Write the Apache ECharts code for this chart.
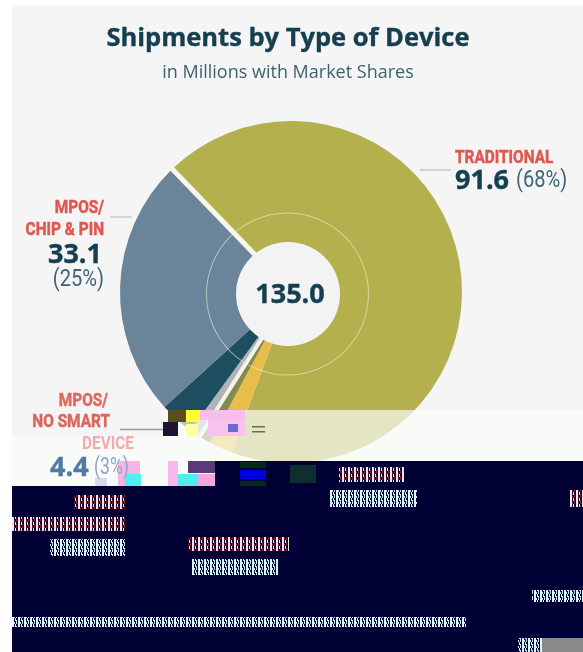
<!DOCTYPE html>
<html><head><meta charset="utf-8">
<style>html,body{margin:0;padding:0;background:#fff}#c{width:583px;height:652px}</style>
<script src="https://cdn.jsdelivr.net/npm/echarts@6/dist/echarts.min.js"></script>
</head><body><div id="c"></div>
<script>
const categories = ['Traditional','Other A','Other B','Other C','MPOS/No Smart Device','MPOS/Chip & Pin'];
const values = [91.6, 3.0, 1.5, 1.4, 4.4, 33.1];
const colors = ['#b3b04d','#e8bd4a','#86884e','#b2b3b5','#1d4f60','#6a8599'];
const total = 135.0;
const titleText = 'Shipments by Type of Device';
const subtitleText = 'in Millions with Market Shares';

const chart = echarts.init(document.getElementById('c'), null, {renderer:'canvas'});
const pieCenter = [291,292];
const mainData = categories.map((n,i)=>({name:n,value:values[i],itemStyle:{color:colors[i]}}));
const overlayData = [];
categories.forEach((n,i)=>{
  if(i===0) overlayData.push({name:'sep0',value:0,itemStyle:{color:'none',borderColor:'#f7f7ea',borderWidth:5}});
  if(i===3) overlayData.push({name:'sep3',value:0,itemStyle:{color:'none',borderColor:'#f3f3ee',borderWidth:4}});
  overlayData.push({name:n,value:values[i],itemStyle:{color:'transparent',borderWidth:0}});
});
function noise(a,b){
  const c=document.createElement('canvas');c.width=6;c.height=6;const g=c.getContext('2d');
  g.fillStyle='#000034';g.fillRect(0,0,6,6);g.fillStyle=a;g.fillRect(0,0,2,6);g.fillRect(3,0,1,3);
  g.fillStyle=b;g.fillRect(4,2,1,4);g.fillRect(2,4,1,2);
  return {image:c,repeat:'repeat'};
}
const NR=noise('#f1e4ea','#7a1d2a'), NC=noise('#dff4fa','#bfeaf2');
const RED='#e0574f', DARK='#133f50', MID='#3f6475';
const T=(text,x,y,o)=>({type:'text',z:20,x,y,scaleX:o.sx||1,silent:true,style:{text,fill:o.c||DARK,stroke:o.b?(o.c||DARK):null,lineWidth:o.b||0,font:o.f,textAlign:o.a||'left',textVerticalAlign:'middle'}});
const R=(x,y,w,h,fill,op)=>({type:'rect',z:12,silent:true,shape:{x,y,width:w,height:h},style:{fill,opacity:op==null?1:op}});
const cond='bold 19px Roboto, sans-serif', condN='24.5px Roboto, sans-serif', num='bold 27px "Open Sans", sans-serif';
const graphics=[
 {type:'rect',z:0,silent:true,shape:{x:12,y:5,width:571,height:647},style:{fill:'#f5f5f5'}},
 {type:'polygon',z:10,silent:true,shape:{points:[[12,436],[165,436],[165,410],[583,410],[583,461],[215,461],[215,486],[12,486]]},style:{fill:'#fafdfb',opacity:.68}},
 {type:'polygon',z:11,silent:true,shape:{points:[[12,486],[215,486],[215,461],[583,461],[583,652],[12,652]]},style:{fill:'#000034'}},
 {type:'line',z:5,silent:true,shape:{x1:420,y1:170,x2:451,y2:170},style:{stroke:'#a9adae',lineWidth:1}},
 {type:'line',z:5,silent:true,shape:{x1:110,y1:217,x2:132,y2:217},style:{stroke:'#b5b8b9',lineWidth:1}},
 {type:'line',z:5,silent:true,shape:{x1:120,y1:429.5,x2:166,y2:429.5},style:{stroke:'#9a9a9a',lineWidth:1.5}},
 R(168,410,22,12,'#5a4d1e'),R(163,422,15,14,'#1c1430'),R(186,410,14,12,'#ffff30'),R(186,424,12,12,'#ffffa0'),
 R(200,410,45,10,'#f7bdf0'),R(208,420,37,16,'#f8c2ef'),R(228,424,10,8,'#6a6ad0'),R(252,426,13,1.5,'#6a6a55'),R(252,431,13,1.5,'#6a6a55'),
 R(118,461,22,25,'#f5b5e8'),R(125,474,16,12,'#4ff0f0'),R(168,461,10,25,'#f8b8ec'),R(178,474,20,12,'#4feeee'),R(188,461,27,12,'#5a3a7a'),R(198,474,17,12,'#f5a5e0'),R(95,478,12,8,'#d8d8f0'),
 R(240,470,26,9,'#0000e0'),R(240,462,26,6,'#003018',.9),R(240,481,26,5,'#003018',.9),R(290,465,26,18,'#123a30',.8),
 R(339,467,65,15,NR),R(329,490,88,17,NC),R(569,490,14,17,NR),
 R(74,495,52,14,NR),R(12,517,114,14,NR),R(50,539,76,17,NC),
 R(188,537,101,14,NR),R(191,559,87,16,NC),R(532,590,51,12,NC),R(12,617,454,10,NC),
 R(518,638,24,14,NC),R(542,638,41,14,'#8a8a8a'),
 T(titleText,288,39,{f:'bold 25.5px "Open Sans", sans-serif',c:'#153f50',a:'center',b:.4}),
 T(subtitleText,288,73,{f:'18px "Open Sans", sans-serif',c:'#3d6171',a:'center'}),
 T(total.toFixed(1),290,295,{f:num,c:DARK,a:'center',b:.4}),
 T('TRADITIONAL',455,158,{f:cond,c:RED,sx:.81,b:.5}),
 T(values[0].toFixed(1),455,181,{f:num,b:.4}),
 T('(68%)',516,181,{f:condN,c:MID,sx:.82}),
 T('MPOS/',104,208,{f:cond,c:RED,a:'right',sx:.81,b:.5}),
 T('CHIP & PIN',104,230,{f:cond,c:RED,a:'right',sx:.81,b:.5}),
 T(values[5].toFixed(1),102,255,{f:num,a:'right',b:.4}),
 T('(25%)',104,280,{f:condN,c:MID,a:'right',sx:.82}),
 T('MPOS/',108,401,{f:cond,c:'#e0695f',a:'right',sx:.81,b:.5}),
 T('NO SMART',110,422,{f:cond,c:'#d8675e',a:'right',sx:.81,b:.5}),
 T('DEVICE',134,444,{f:cond,c:'#f4a9ae',a:'right',sx:.81}),
 T(values[4].toFixed(1),50,468,{f:num,c:'#5279a3',b:.4}),
 T('(3%)',94,468,{f:condN,c:'#8fa6c8',sx:.72})
];
chart.setOption({
  animation:false,
  backgroundColor:'#ffffff',
  graphic:{elements:graphics},
  series:[
   {type:'pie',z:2,silent:true,center:pieCenter,radius:[40,171],startAngle:134,clockwise:true,label:{show:false},labelLine:{show:false},data:mainData},
   {type:'pie',z:3,silent:true,center:pieCenter,radius:[40,171],startAngle:134,clockwise:true,label:{show:false},labelLine:{show:false},data:overlayData},
   {type:'pie',z:4,silent:true,center:[287.5,294],radius:[80.5,81.5],label:{show:false},labelLine:{show:false},data:[{name:'ring',value:total,itemStyle:{color:'rgba(245,245,225,.55)'}}]},
   {type:'pie',z:4,silent:true,center:[288,294],radius:[0,52],label:{show:false},labelLine:{show:false},data:[{name:'Total',value:total,itemStyle:{color:'#f3f3f3'}}]}
  ]
});
</script></body></html>
